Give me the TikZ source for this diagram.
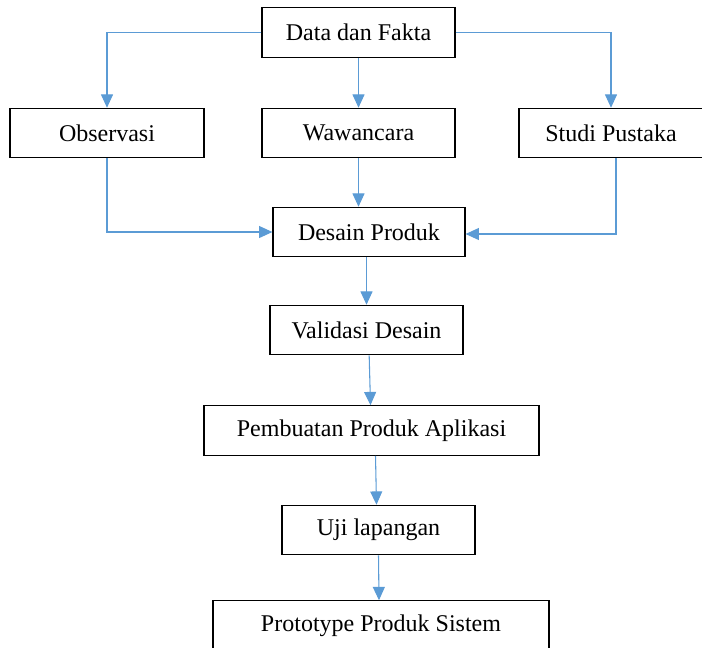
\documentclass[tikz,border=0pt]{standalone}
\usepackage{fontspec}
\setmainfont{Liberation Serif}
\usepackage{xcolor}
\usetikzlibrary{positioning,arrows.meta}
\definecolor{biru}{HTML}{5B9BD5}

\begin{document}
\begin{tikzpicture}[
  x=0.75pt, y=-0.75pt,
  font=\fontsize{18}{22}\selectfont,
  kotak/.style={draw, line width=0.9pt, align=center, inner sep=2pt, minimum height=37pt},
  panah/.style={-{Triangle[length=10pt, width=9pt]}, biru, line width=0.8pt}
]
  \useasboundingbox (0,0) rectangle (702,647);
  \clip (0,0) rectangle (702,647);

  \node[kotak, minimum width=144.75pt] (fakta) at (358.5,32.5) {Data dan Fakta};
  \node[kotak, minimum width=145.5pt] (obs) at (107,133) {Observasi};
  \node[kotak, minimum width=144.75pt] (waw) at (358.5,133) {Wawancara};
  \node[kotak, minimum width=138pt] (pustaka) at (611,133) {Studi Pustaka};
  \node[kotak, minimum width=144pt] (desain) at (369,232) {Desain Produk};
  \node[kotak, minimum width=144.75pt] (validasi) at (366.5,330) {Validasi Desain};
  \node[kotak, minimum width=251.25pt] (buat) at (371.5,430.5) {Pembuatan Produk Aplikasi};
  \node[kotak, minimum width=144.75pt] (uji) at (378.5,530) {Uji lapangan};
  \node[kotak, minimum width=252pt] (proto) at (381,625.5) {Prototype Produk Sistem};

  \draw[panah] (fakta.west) -| (obs.north);
  \draw[panah] (fakta.south) -- (waw.north);
  \draw[panah] (fakta.east) -| (pustaka.north);

  \draw[panah] (obs.south) |- (desain.west);
  \draw[panah] (waw.south) -- (waw.south |- desain.north);
  \draw[panah] ([xshift=3.75pt]pustaka.south) |- ([yshift=-1.5pt]desain.east);

  \draw[panah] (desain.south -| validasi.north) -- (validasi.north);
  \draw[panah] ([xshift=2pt]validasi.south) -- ([xshift=-0.75pt]buat.north);
  \draw[panah] ([xshift=3pt]buat.south) -- ([xshift=-1.5pt]uji.north);
  \draw[panah] (uji.south) -- ([xshift=-1.5pt]proto.north);
\end{tikzpicture}
\end{document}
